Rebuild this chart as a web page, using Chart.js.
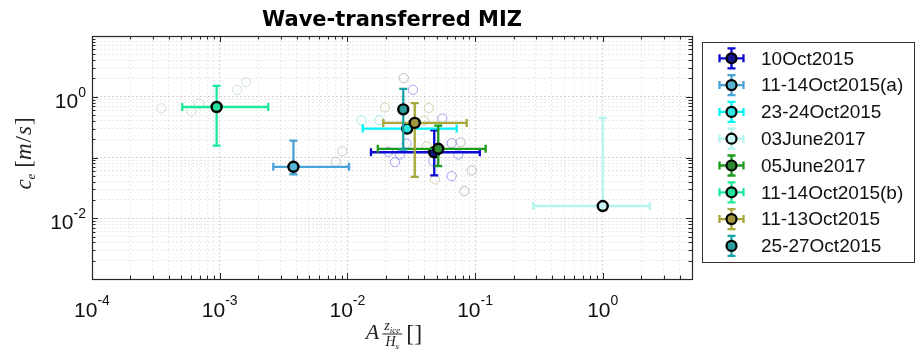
<!DOCTYPE html>
<html>
<head>
<meta charset="utf-8">
<script src="https://cdn.jsdelivr.net/npm/chart.js@4.4.1/dist/chart.umd.min.js"></script>
<style>
  html, body { margin: 0; padding: 0; background: #fff; }
  #wrap { width: 916px; height: 351px; }
</style>
</head>
<body>
<div id="wrap"><canvas id="chart" width="916" height="351"></canvas></div>
<script>
// --- data ---
const seriesNames = ['10Oct2015', '11-14Oct2015(a)', '23-24Oct2015', '03June2017', '05June2017', '11-14Oct2015(b)', '11-13Oct2015', '25-27Oct2015'];
const seriesX = [0.0479, 0.00378, 0.0294, 1.0, 0.0515, 0.000946, 0.0337, 0.0274];
const seriesY = [0.122, 0.0703, 0.299, 0.0159, 0.139, 0.678, 0.371, 0.62];
const xLow  = [0.0153, 0.00263, 0.0132, 0.286, 0.0173, 0.000509, 0.0191, null];
const xHigh = [0.109, 0.0103, 0.0718, 2.34, 0.121, 0.0024, 0.086, null];
const yLow  = [0.0507, 0.053, 0.27, 0.0159, 0.072, 0.157, 0.048, 0.135];
const yHigh = [0.28, 0.19, 0.33, 0.448, 0.335, 1.51, 0.787, 1.35];
const barColors  = ['#0a0ad2', '#4aa3d6', '#00f4f4', '#b4f4ee', '#1e9a1e', '#1de99b', '#a7a73a', '#17a3a3'];
const fillColors = ['#14148c', '#56b4d4', '#2ee6e6', '#c6f6f4', '#2f8a2f', '#24df98', '#a2963e', '#2a9c9c'];

// faint circles (individual estimates)
const cloud10OctX = [0.0326, 0.0554, 0.0291, 0.0656, 0.0209, 0.0258, 0.0236, 0.0738, 0.0471, 0.0656];
const cloud10OctY = [1.30, 0.44, 0.17, 0.172, 0.124, 0.112, 0.0838, 0.112, 0.087, 0.0493];
const cloudJun05X = [0.0771, 0.094, 0.0823, 0.0276];
const cloudJun05Y = [0.178, 0.0612, 0.028, 2.03];
const cloud1113X = [0.0197, 0.0434, 0.0398, 0.0418, 0.0486];
const cloud1113Y = [0.668, 0.653, 0.404, 0.153, 0.0435];
const cloud2324X = [0.0129, 0.0178];
const cloud2324Y = [0.409, 0.409];
const cloud1114aX = [0.00912, 0.0081];
const cloud1114aY = [0.127, 0.085];
const cloud1114bX = [0.00035, 0.0006, 0.00069, 0.00137, 0.00161];
const cloud1114bY = [0.643, 0.574, 0.767, 1.30, 1.74];

const xTickExps = [-4, -3, -2, -1, 0];
const yTickExps = [-2, 0];
const xMin = 1e-4, xMax = 5, yMin = 1e-3, yMax = 10;

// --- helpers ---
function logGrid(minExp, maxExp, maxVal) {
    const vals = [];
    for (let e = minExp; e <= maxExp; e++) {
        for (let m = 1; m <= 9; m++) {
            const v = m * Math.pow(10, e);
            if (v <= maxVal * 1.0001) vals.push(v);
        }
    }
    return vals;
}
function isDecade(v) {
    const l = Math.log10(v);
    return Math.abs(l - Math.round(l)) < 1e-6;
}
const xGridVals = logGrid(-4, 0, xMax);
const yGridVals = logGrid(-3, 1, yMax);

function toPoints(xs, ys) { return xs.map((x, i) => ({ x: x, y: ys[i] })); }

function drawPieces(ctx, pieces, x, y) {
    // pieces: {t, font, dy, gap}
    let cx = x;
    pieces.forEach(p => {
        ctx.font = p.font;
        ctx.fillText(p.t, cx, y + (p.dy || 0));
        cx += ctx.measureText(p.t).width + (p.gap || 0);
    });
    return cx - x;
}
function piecesWidth(ctx, pieces) {
    let w = 0;
    pieces.forEach(p => { ctx.font = p.font; w += ctx.measureText(p.t).width + (p.gap || 0); });
    return w;
}

function errorBar(ctx, x1, y1, x2, y2, cap, vertical) {
    ctx.beginPath();
    ctx.moveTo(x1, y1); ctx.lineTo(x2, y2);
    if (vertical) {
        ctx.moveTo(x1 - cap, y1); ctx.lineTo(x1 + cap, y1);
        ctx.moveTo(x2 - cap, y2); ctx.lineTo(x2 + cap, y2);
    } else {
        ctx.moveTo(x1, y1 - cap); ctx.lineTo(x1, y1 + cap);
        ctx.moveTo(x2, y2 - cap); ctx.lineTo(x2, y2 + cap);
    }
    ctx.stroke();
}

// --- datasets ---
const clouds = [
    { xs: cloud10OctX, ys: cloud10OctY, color: 'rgba(105,105,235,0.6)' },
    { xs: cloudJun05X, ys: cloudJun05Y, color: 'rgba(140,140,150,0.55)' },
    { xs: cloud1113X, ys: cloud1113Y, color: 'rgba(185,185,120,0.6)' },
    { xs: cloud2324X, ys: cloud2324Y, color: 'rgba(120,215,225,0.65)' },
    { xs: cloud1114aX, ys: cloud1114aY, color: 'rgba(160,160,160,0.55)' },
    { xs: cloud1114bX, ys: cloud1114bY, color: 'rgba(170,200,185,0.55)' }
];
const cloudCount = clouds.length;

const datasets = [];
clouds.forEach(c => {
    datasets.push({
        data: toPoints(c.xs, c.ys),
        pointRadius: 4.6,
        pointBorderWidth: 1,
        pointBackgroundColor: 'rgba(0,0,0,0)',
        pointBorderColor: c.color,
        showLine: false,
        order: 100
    });
});
seriesNames.forEach((name, i) => {
    datasets.push({
        label: name,
        data: [{ x: seriesX[i], y: seriesY[i] }],
        pointRadius: 5,
        pointBorderWidth: 2.4,
        pointBackgroundColor: fillColors[i],
        pointBorderColor: '#000',
        showLine: false,
        order: 20 - i
    });
});

// error bars, box, ticks, labels, legend
const figurePlugin = {
    id: 'figure',
    beforeDatasetDraw(chart, args) {
        const i = args.index - cloudCount;
        if (i < 0) return;
        const ctx = chart.ctx;
        const xs = chart.scales.x, ys = chart.scales.y;
        const px = xs.getPixelForValue(seriesX[i]);
        const py = ys.getPixelForValue(seriesY[i]);
        ctx.save();
        ctx.strokeStyle = barColors[i];
        ctx.lineWidth = 2.3;
        if (xLow[i] !== null) {
            errorBar(ctx, xs.getPixelForValue(xLow[i]), py, xs.getPixelForValue(xHigh[i]), py, 4, false);
        }
        if (yLow[i] !== null) {
            errorBar(ctx, px, ys.getPixelForValue(yLow[i]), px, ys.getPixelForValue(yHigh[i]), 4, true);
        }
        ctx.restore();
    },
    afterDraw(chart) {
        const ctx = chart.ctx;
        const a = chart.chartArea;
        const xs = chart.scales.x, ys = chart.scales.y;
        ctx.save();

        // axes box
        ctx.strokeStyle = '#262626';
        ctx.lineWidth = 1.2;
        ctx.strokeRect(a.left + 0.5, a.top + 0.5, a.right - a.left, a.bottom - a.top);

        // inward tick marks on all four sides
        ctx.lineWidth = 1;
        ctx.beginPath();
        xGridVals.forEach(v => {
            const p = Math.round(xs.getPixelForValue(v)) + 0.5;
            const len = isDecade(v) ? 6 : 3.5;
            ctx.moveTo(p, a.bottom); ctx.lineTo(p, a.bottom - len);
            ctx.moveTo(p, a.top); ctx.lineTo(p, a.top + len);
        });
        yGridVals.forEach(v => {
            const p = Math.round(ys.getPixelForValue(v)) + 0.5;
            const len = isDecade(v) ? 6 : 3.5;
            ctx.moveTo(a.left, p); ctx.lineTo(a.left + len, p);
            ctx.moveTo(a.right, p); ctx.lineTo(a.right - len, p);
        });
        ctx.stroke();

        // tick labels 10^n
        ctx.fillStyle = '#111';
        ctx.textBaseline = 'alphabetic';
        ctx.textAlign = 'left';
        const base = '21px "Liberation Sans", Arial, sans-serif';
        const sup = '14px "Liberation Sans", Arial, sans-serif';
        xTickExps.forEach(e => {
            const p = xs.getPixelForValue(Math.pow(10, e));
            const pieces = [{ t: '10', font: base }, { t: String(e), font: sup, dy: -12 }];
            const w = piecesWidth(ctx, pieces);
            drawPieces(ctx, pieces, p - w / 2, 317);
        });
        yTickExps.forEach(e => {
            const p = ys.getPixelForValue(Math.pow(10, e));
            const pieces = [{ t: '10', font: base }, { t: String(e), font: sup, dy: -11 }];
            const w = piecesWidth(ctx, pieces);
            drawPieces(ctx, pieces, 86 - w, p + 11);
        });

        // title
        ctx.font = 'bold 21px "DejaVu Sans", sans-serif';
        ctx.textAlign = 'center';
        ctx.fillStyle = '#000';
        ctx.fillText('Wave-transferred MIZ', (a.left + a.right) / 2, 26);

        // x axis title: A z_ice / H_s []
        ctx.textAlign = 'left';
        ctx.fillStyle = '#222';
        const serifIt = s => 'italic ' + s + 'px "Liberation Serif", "DejaVu Serif", serif';
        const serif = s => s + 'px "Liberation Serif", "DejaVu Serif", serif';
        const cxm = (a.left + a.right) / 2;
        const fracNum = [{ t: 'z', font: serifIt(14) }, { t: 'ice', font: serifIt(9), dy: 3 }];
        const fracDen = [{ t: 'H', font: serifIt(14) }, { t: 's', font: serifIt(9), dy: 3 }];
        ctx.font = serifIt(22);
        const wA = ctx.measureText('A').width;
        const wNum = piecesWidth(ctx, fracNum), wDen = piecesWidth(ctx, fracDen);
        const wFrac = Math.max(wNum, wDen) + 4;
        ctx.font = serif(24);
        const wBr = ctx.measureText('[]').width;
        const totalX = wA + 3 + wFrac + 4 + wBr;
        let xx = cxm - totalX / 2 + 2;
        ctx.font = serifIt(22);
        ctx.fillText('A', xx, 339);
        xx += wA + 3;
        drawPieces(ctx, fracNum, xx + (wFrac - wNum) / 2, 330);
        ctx.fillRect(xx, 333.5, wFrac, 1);
        drawPieces(ctx, fracDen, xx + (wFrac - wDen) / 2, 346);
        xx += wFrac + 4;
        ctx.font = serif(24);
        ctx.fillText('[]', xx, 341);

        // y axis title: c_e [m/s]
        ctx.save();
        ctx.translate(31, (a.top + a.bottom) / 2 - 4);
        ctx.rotate(-Math.PI / 2);
        const yPieces = [
            { t: 'c', font: serifIt(23) },
            { t: 'e', font: serifIt(13), dy: 4, gap: 6 },
            { t: '[', font: serif(23) },
            { t: 'm', font: serifIt(23), gap: 1 },
            { t: '/', font: serif(23), gap: 1 },
            { t: 's', font: serifIt(23), gap: 1 },
            { t: ']', font: serif(23) }
        ];
        const wy = piecesWidth(ctx, yPieces);
        drawPieces(ctx, yPieces, -wy / 2, 0);
        ctx.restore();

        // legend
        const lx = 702, ly = 42, lw = 212, lh = 220;
        ctx.fillStyle = '#fff';
        ctx.fillRect(lx, ly, lw, lh);
        ctx.strokeStyle = '#333';
        ctx.lineWidth = 1;
        ctx.strokeRect(lx + 0.5, ly + 0.5, lw, lh);
        ctx.font = '19px "Liberation Sans", Arial, sans-serif';
        ctx.textBaseline = 'middle';
        seriesNames.forEach((name, i) => {
            const ry = 58.3 + i * 26.8;
            const gx = 731.5;
            ctx.strokeStyle = barColors[i];
            ctx.lineWidth = 2.3;
            if (xLow[i] !== null) errorBar(ctx, gx - 12, ry, gx + 12, ry, 4, false);
            if (yLow[i] !== null) errorBar(ctx, gx, ry - 10, gx, ry + 10, 4, true);
            ctx.beginPath();
            ctx.arc(gx, ry, 5, 0, Math.PI * 2);
            ctx.fillStyle = fillColors[i];
            ctx.fill();
            ctx.lineWidth = 2.2;
            ctx.strokeStyle = '#000';
            ctx.stroke();
            ctx.fillStyle = '#111';
            ctx.fillText(name, 761, ry + 1);
        });
        ctx.restore();
    }
};

const axisCommon = {
    type: 'logarithmic',
    grid: {
        drawTicks: false,
        lineWidth: 1,
        color: c => (c.tick && isDecade(c.tick.value)) ? 'rgba(0,0,0,0.17)' : 'rgba(0,0,0,0.08)'
    },
    border: { display: false, dash: [2, 2] },
    ticks: { display: false }
};

new Chart(document.getElementById('chart'), {
    type: 'scatter',
    data: { datasets: datasets },
    options: {
        responsive: false,
        animation: false,
        layout: { padding: { left: 92, top: 36, right: 224, bottom: 72 } },
        plugins: { legend: { display: false }, tooltip: { enabled: false } },
        scales: {
            x: Object.assign({}, axisCommon, {
                min: xMin, max: xMax,
                afterBuildTicks: axis => { axis.ticks = xGridVals.map(v => ({ value: v })); }
            }),
            y: Object.assign({}, axisCommon, {
                min: yMin, max: yMax,
                afterBuildTicks: axis => { axis.ticks = yGridVals.map(v => ({ value: v })); }
            })
        }
    },
    plugins: [figurePlugin]
});
</script>
</body>
</html>
